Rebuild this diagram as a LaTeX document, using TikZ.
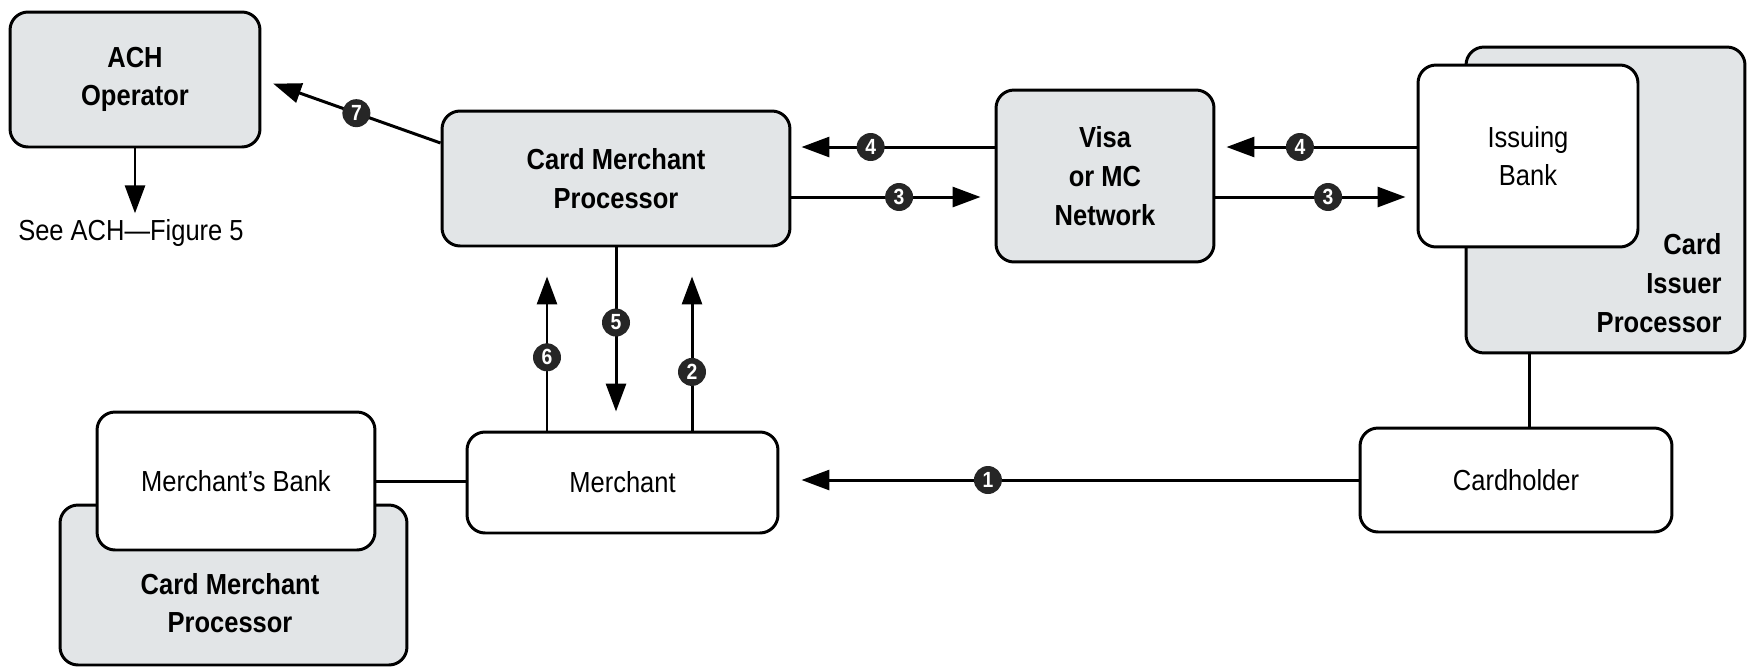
\documentclass[tikz,border=0pt]{standalone}
\usepackage{fontspec}
\setmainfont{Liberation Sans}[FakeStretch=0.88]
\usepackage{tikz}
\usetikzlibrary{arrows.meta,calc}

\definecolor{kuanghui}{RGB}{226,229,231}

\begin{document}
\begin{tikzpicture}[x=0.02cm,y=-0.02cm]


  % 设置style
  % huikuang是灰色的框,baikuang是白色的框
  % hao是黑色圆圈里的编号
  \tikzset{
    huikuang/.style={draw, line width=1.7pt, rounded corners=0.36cm, fill=kuanghui,
      font=\fontsize{16.5}{22}\selectfont\bfseries, align=center, inner sep=0pt},
    baikuang/.style={huikuang, fill=white, font=\fontsize{16.5}{22}\selectfont},
    wenzi/.style={font=\fontsize{16.5}{22}\selectfont, align=center},
    xian/.style={line width=1.7pt},
    jiantou/.style={xian, -{Triangle[length=0.56cm,width=0.4cm]}},
    hao/.style={circle, fill=black!85, text=white, inner sep=0pt, minimum size=0.56cm,
      font=\fontsize{12.5}{12.5}\selectfont\bfseries}
  }

  \useasboundingbox (0,0) rectangle (1748,667);

  % 画框
  \node[huikuang, minimum width=5cm, minimum height=2.7cm] (ach) at (135,79.5) {ACH\\Operator};
  \node[huikuang, minimum width=6.96cm, minimum height=2.7cm] (cmp) at (616,178.5) {Card Merchant\\Processor};
  \node[huikuang, minimum width=4.36cm, minimum height=3.44cm] (visa) at (1105,176) {Visa\\or MC\\Network};
  \node[huikuang, minimum width=5.58cm, minimum height=6.12cm] (cip) at (1605.5,200) {};
  \node[huikuang, draw=none, fill=none, anchor=east, align=right] (ciptext) at (1723,283) {Card\\Issuer\\Processor};
  \node[baikuang, minimum width=4.4cm, minimum height=3.64cm] (ib) at (1528,156) {Issuing\\Bank};

  \node[huikuang, minimum width=6.94cm, minimum height=3.2cm] (cmpb) at (233.5,585) {};
  \node[huikuang, draw=none, fill=none] (cmpbtext) at (230,603) {Card Merchant\\Processor};
  \node[baikuang, minimum width=5.56cm, minimum height=2.76cm] (mb) at (236,481) {Merchant's Bank};
  \node[baikuang, minimum width=6.22cm, minimum height=2.02cm] (merchant) at (622.5,482.5) {Merchant};
  \node[baikuang, minimum width=6.24cm, minimum height=2.08cm] (ch) at (1516,480) {Cardholder};

  \node[wenzi] (see) at (131,233) {See ACH---Figure 5};

  % 画连线
  \draw[jiantou] (ach.south) -- (ach.south |- see.north);
  \draw[jiantou, shorten >=0.25cm] ($(cmp.west)+(0,-35.5)$) -- node[hao, pos=0.47] {7} (ach.east);

  \draw[jiantou, shorten >=0.2cm] ($(visa.west)+(0,-29)$) coordinate (v4) -- node[hao, pos=0.61] {4} (cmp.east |- v4);
  \draw[jiantou, shorten >=0.28cm] ($(cmp.east)+(0,18.5)$) coordinate (c3) -- node[hao, pos=0.53] {3} (visa.west |- c3);
  \draw[jiantou, shorten >=0.22cm] (ib.west |- v4) -- node[hao, pos=0.58] {4} (visa.east |- v4);
  \draw[jiantou, shorten >=0.22cm] (visa.east |- c3) -- node[hao, pos=0.56] {3} (ib.west |- c3);

  \draw[jiantou, shorten >=0.58cm] ($(merchant.north)+(-75.5,0)$) coordinate (m6) -- node[hao, pos=0.4] {6} (m6 |- cmp.south);
  \draw[jiantou, shorten >=0.38cm] (cmp.south) -- node[hao, pos=0.41] {5} (cmp.south |- merchant.north);
  \draw[jiantou, shorten >=0.58cm] ($(merchant.north)+(69.5,0)$) coordinate (m2) -- node[hao, pos=0.32] {2} (m2 |- cmp.south);

  \draw[jiantou, shorten >=0.44cm] (ch.west) -- node[hao, pos=0.64] {1} (merchant.east |- ch.west);
  \draw[xian] (mb.east) -- (merchant.west |- mb.east);
  \draw[xian] ($(ch.north)+(13,0)$) coordinate (chtop) -- (chtop |- cip.south);

\end{tikzpicture}
\end{document}
